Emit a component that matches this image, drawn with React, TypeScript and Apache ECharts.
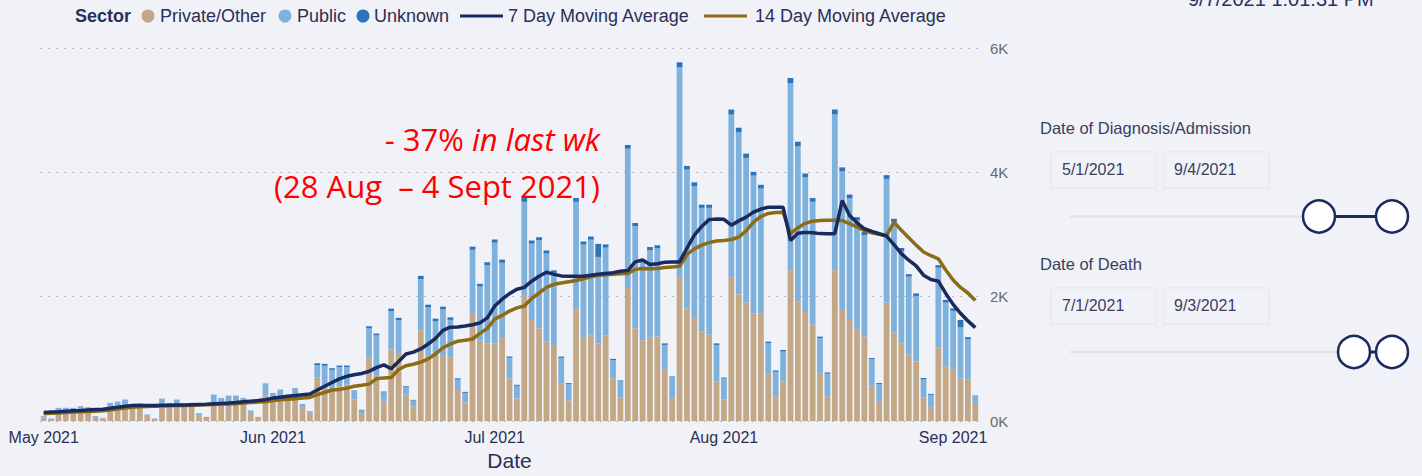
import React, { useEffect, useRef } from "react";
import * as echarts from "echarts";

// ---------- data ----------
const START_YEAR = 2021;
const START_MONTH = 4; // May (0-based)
const DAY_COUNT = 127; // 5/1/2021 .. 9/4/2021

const monthLabels = ["May 2021", "Jun 2021", "Jul 2021", "Aug 2021", "Sep 2021"];
const yTickLabels = ["0K", "2K", "4K", "6K"];

const dates: string[] = Array.from({ length: DAY_COUNT }, (_, i) =>
  new Date(Date.UTC(START_YEAR, START_MONTH, 1 + i)).toISOString().slice(0, 10)
);

// rows = weeks starting Saturday 1 May 2021
const privateOther = [
  60, 35, 171, 187, 180, 185, 175,
  60, 45, 187, 197, 251, 240, 240,
  85, 35, 256, 267, 256, 250, 267,
  85, 50, 288, 293, 304, 304, 320,
  133, 53, 411, 373, 384, 373, 384,
  213, 133, 705, 555, 470, 580, 590,
  350, 128, 1019, 740, 315, 1152, 1080,
  425, 235, 1461, 1060, 1050, 1050, 1019,
  501, 299, 1739, 1291, 1248, 1248, 1339,
  685, 362, 2014, 1624, 1490, 1278, 1224,
  600, 334, 1810, 1342, 1395, 1250, 1374,
  690, 382, 2142, 1490, 1300, 1344, 1360,
  825, 370, 2318, 1810, 1655, 1438, 1390,
  640, 350, 2305, 2035, 1907, 1730, 1725,
  770, 398, 638, 2427, 1920, 1771, 1557,
  771, 400, 2427, 1803, 1627, 1477, 1360,
  560, 309, 1904, 1424, 1253, 1067, 960,
  384, 229, 1184, 880, 827, 683, 667,
  293,
];

const publicSector = [
  20, 8, 42, 26, 33, 55, 49,
  20, 8, 106, 118, 96, 16, 16,
  22, 8, 107, 26, 91, 27, 26,
  43, 19, 139, 80, 107, 107, 53,
  38, 16, 182, 80, 123, 54, 149,
  64, 27, 195, 335, 355, 288, 278,
  131, 43, 471, 638, 145, 616, 545,
  120, 96, 824, 772, 558, 750, 609,
  167, 156, 1016, 877, 1257, 1622, 1208,
  333, 207, 1513, 1230, 1417, 1416, 1160,
  418, 262, 1717, 1496, 1523, 1390, 1416,
  290, 257, 2238, 1646, 1260, 1406, 1417,
  400, 333, 3372, 2234, 2125, 1992, 2040,
  585, 335, 2625, 2613, 2325, 2218, 2015,
  483, 396, 481, 3010, 2503, 2151, 1970,
  562, 362, 2504, 2217, 1956, 1753, 1630,
  433, 289, 1991, 1779, 1481, 1256, 1053,
  289, 193, 1283, 1027, 946, 824, 652,
  108,
];

const unknownSector = [
  0, 0, 0, 0, 0, 0, 0,
  0, 0, 0, 0, 0, 0, 0,
  0, 0, 0, 0, 0, 0, 0,
  0, 0, 0, 0, 0, 0, 0,
  0, 0, 10, 0, 0, 0, 0,
  0, 0, 30, 30, 25, 25, 25,
  10, 10, 35, 30, 15, 40, 35,
  15, 10, 50, 40, 40, 40, 40,
  20, 15, 50, 40, 50, 50, 50,
  20, 15, 60, 50, 50, 50, 40,
  20, 15, 60, 50, 50, 210, 50,
  20, 15, 60, 50, 40, 50, 50,
  25, 15, 80, 60, 60, 50, 50,
  25, 15, 80, 70, 70, 60, 60,
  25, 20, 25, 80, 70, 60, 60,
  25, 20, 80, 60, 60, 50, 50,
  20, 15, 60, 50, 50, 40, 40,
  20, 15, 40, 40, 40, 120, 30,
  10,
];

const movingAvg7 = [
  140, 145, 150, 158, 165, 172, 180,
  185, 190, 205, 222, 240, 252, 253,
  252, 252, 254, 255, 257, 258, 262,
  266, 270, 278, 285, 292, 300, 310,
  320, 330, 345, 370, 385, 400, 410,
  425, 437, 500, 560, 620, 680, 720,
  745, 765, 800, 860, 905, 843, 960,
  1080, 1110, 1160, 1240, 1330, 1460, 1510,
  1515, 1530, 1550, 1580, 1660, 1850, 1960,
  2050, 2120, 2150, 2250, 2330, 2395, 2360,
  2335, 2330, 2330, 2330, 2345, 2360, 2375,
  2385, 2410, 2420, 2560, 2590, 2520, 2530,
  2555, 2560, 2560, 2780, 2990, 3130, 3240,
  3250, 3245, 3150, 3220, 3280, 3360, 3410,
  3440, 3440, 3440, 2905, 3020, 3035, 3030,
  3015, 3013, 3013, 3547, 3307, 3189, 3093,
  3051, 3013, 2976, 2837, 2693, 2587, 2496,
  2347, 2277, 2251, 2053, 1877, 1733, 1611,
  1504,
];

const movingAvg14 = [
  120, 125, 130, 138, 145, 150, 155,
  160, 165, 180, 195, 210, 222, 230,
  236, 240, 243, 246, 249, 252, 255,
  258, 262, 266, 270, 275, 280, 290,
  300, 306, 312, 330, 345, 350, 360,
  370, 380, 427, 460, 500, 510, 530,
  560, 575, 595, 680, 695, 700, 830,
  890, 915, 950, 1000, 1080, 1180, 1240,
  1285, 1300, 1320, 1410, 1490, 1640, 1700,
  1770, 1820, 1850, 1970, 2060, 2150, 2200,
  2220, 2240, 2260, 2290, 2320, 2345, 2355,
  2360, 2370, 2375, 2440, 2455, 2450, 2455,
  2470, 2480, 2490, 2680, 2770, 2830, 2870,
  2895, 2905, 2920, 2960, 3060, 3200, 3290,
  3340, 3355, 3360, 3013, 3110, 3180, 3215,
  3227, 3230, 3230, 3225, 3175, 3125, 3060,
  3030, 3005, 2985, 3200, 3070, 2950, 2830,
  2720, 2660, 2610, 2430, 2270, 2150, 2060,
  1940,
];

const diagnosisRange = ["5/1/2021", "9/4/2021"];
const deathRange = ["7/1/2021", "9/3/2021"];
const timestamp = "9/7/2021 1:01:31 PM";

// ---------- styles ----------
const BG = "#f0f2f8";
const C_PRIVATE = "#c2a886";
const C_PUBLIC = "#7fb1dd";
const C_UNKNOWN = "#2b73bb";
const C_MA7 = "#1a2a5e";
const C_MA14 = "#8c6c14";
const TEXT = "#2a2f55";
const FONT = "'Liberation Sans', Arial, sans-serif";
const NOTE_FONT = "'Open Sans', sans-serif";

export default function App() {
  const ref = useRef<HTMLDivElement>(null);

  useEffect(() => {
    if (!ref.current) return;
    const chart = echarts.init(ref.current, undefined, { renderer: "svg" });

    const legendY = 16;
    const txt = (x: number, y: number, text: string, size: number, extra: any = {}) => ({
      type: "text",
      x,
      y,
      style: {
        text,
        fill: TEXT,
        fontSize: size,
        fontFamily: FONT,
        verticalAlign: "middle",
        align: "left",
        ...extra,
      },
    });

    const graphic: any[] = [
      // legend
      txt(75, legendY, "Sector", 18, { fontWeight: "bold" }),
      { type: "circle", shape: { cx: 148, cy: legendY, r: 6.5 }, style: { fill: C_PRIVATE } },
      txt(160, legendY, "Private/Other", 18),
      { type: "circle", shape: { cx: 285, cy: legendY, r: 6.5 }, style: { fill: C_PUBLIC } },
      txt(297, legendY, "Public", 18),
      { type: "circle", shape: { cx: 363, cy: legendY, r: 6.5 }, style: { fill: C_UNKNOWN } },
      txt(374, legendY, "Unknown", 18),
      { type: "line", shape: { x1: 460, y1: legendY, x2: 503, y2: legendY }, style: { stroke: C_MA7, lineWidth: 3 } },
      txt(508, legendY, "7 Day Moving Average", 18),
      { type: "line", shape: { x1: 704, y1: legendY, x2: 747, y2: legendY }, style: { stroke: C_MA14, lineWidth: 3 } },
      txt(755, legendY, "14 Day Moving Average", 18),
      // timestamp (clipped at the top edge, as in the reference)
      txt(1188, 9, timestamp, 20, { verticalAlign: "bottom", fill: "#2b3163" }),
      // annotation
      {
        type: "text",
        x: 600,
        y: 139,
        style: {
          text: "{n|- 37% }{i|in last wk}",
          align: "right",
          verticalAlign: "middle",
          rich: {
            n: { fontSize: 31, fontFamily: NOTE_FONT, fill: "#ff0000", color: "#ff0000" },
            i: { fontSize: 31, fontFamily: NOTE_FONT, fontStyle: "italic", fill: "#ff0000", color: "#ff0000" },
          },
        },
      },
      {
        type: "text",
        x: 600,
        y: 186,
        style: {
          text: "(28 Aug  \u2013 4 Sept 2021)",
          align: "right",
          verticalAlign: "middle",
          fontSize: 31,
          fontFamily: NOTE_FONT,
          fill: "#ff0000",
        },
      },
      // slicer: Date of Diagnosis/Admission
      txt(1040, 128, "Date of Diagnosis/Admission", 16.5, { fill: "#3a3f5c" }),
      { type: "rect", shape: { x: 1051, y: 152, width: 105, height: 36 }, style: { fill: "none", stroke: "#e3e5ec", lineWidth: 1 } },
      { type: "rect", shape: { x: 1164, y: 152, width: 105, height: 36 }, style: { fill: "none", stroke: "#e3e5ec", lineWidth: 1 } },
      txt(1062, 169, diagnosisRange[0], 16, { fill: "#3a3f5c" }),
      txt(1174, 169, diagnosisRange[1], 16, { fill: "#3a3f5c" }),
      { type: "line", shape: { x1: 1070, y1: 216.5, x2: 1319, y2: 216.5 }, style: { stroke: "#e2e3e8", lineWidth: 2.5 } },
      { type: "line", shape: { x1: 1319, y1: 216.5, x2: 1392, y2: 216.5 }, style: { stroke: C_MA7, lineWidth: 3 } },
      { type: "circle", shape: { cx: 1319, cy: 216.5, r: 16 }, style: { fill: "#ffffff", stroke: C_MA7, lineWidth: 2.5 } },
      { type: "circle", shape: { cx: 1392, cy: 216.5, r: 16 }, style: { fill: "#ffffff", stroke: C_MA7, lineWidth: 2.5 } },
      // slicer: Date of Death
      txt(1040, 264, "Date of Death", 16.5, { fill: "#3a3f5c" }),
      { type: "rect", shape: { x: 1051, y: 288, width: 105, height: 36 }, style: { fill: "none", stroke: "#e3e5ec", lineWidth: 1 } },
      { type: "rect", shape: { x: 1164, y: 288, width: 105, height: 36 }, style: { fill: "none", stroke: "#e3e5ec", lineWidth: 1 } },
      txt(1062, 305, deathRange[0], 16, { fill: "#3a3f5c" }),
      txt(1174, 305, deathRange[1], 16, { fill: "#3a3f5c" }),
      { type: "line", shape: { x1: 1070, y1: 352, x2: 1354, y2: 352 }, style: { stroke: "#e2e3e8", lineWidth: 2.5 } },
      { type: "line", shape: { x1: 1354, y1: 352, x2: 1392, y2: 352 }, style: { stroke: C_MA7, lineWidth: 3 } },
      { type: "circle", shape: { cx: 1354, cy: 352, r: 16 }, style: { fill: "#ffffff", stroke: C_MA7, lineWidth: 2.5 } },
      { type: "circle", shape: { cx: 1392, cy: 352, r: 16 }, style: { fill: "#ffffff", stroke: C_MA7, lineWidth: 2.5 } },
    ];

    const barCommon = {
      type: "bar",
      stack: "sector",
      barCategoryGap: "22%",
      emphasis: { disabled: true },
    };

    chart.setOption({
      animation: false,
      backgroundColor: "transparent",
      textStyle: { fontFamily: FONT },
      grid: { left: 40, right: 443, top: 48, bottom: 53 },
      xAxis: {
        type: "category",
        data: dates,
        boundaryGap: true,
        axisLine: { show: false },
        axisTick: { show: false },
        axisLabel: {
          interval: (_i: number, v: string) => v.slice(8) === "01",
          formatter: (v: string) => monthLabels[Number(v.slice(5, 7)) - 5],
          color: TEXT,
          fontSize: 16,
          margin: 8,
          fontFamily: FONT,
        },
        name: "Date",
        nameLocation: "middle",
        nameGap: 27,
        nameTextStyle: { fontSize: 21, color: TEXT, fontFamily: FONT },
      },
      yAxis: {
        type: "value",
        position: "right",
        min: 0,
        max: 6000,
        interval: 2000,
        axisLine: { show: false },
        axisTick: { show: false },
        axisLabel: {
          formatter: (v: number) => yTickLabels[Math.round(v / 2000)],
          color: "#6b6b6b",
          fontSize: 15,
          margin: 11,
          fontFamily: FONT,
        },
        splitLine: { lineStyle: { color: "#bcbcc0", type: [2, 6], width: 1 } },
      },
      series: [
        { ...barCommon, name: "Private/Other", data: privateOther, itemStyle: { color: C_PRIVATE } },
        { ...barCommon, name: "Public", data: publicSector, itemStyle: { color: C_PUBLIC } },
        { ...barCommon, name: "Unknown", data: unknownSector, itemStyle: { color: C_UNKNOWN } },
        {
          type: "line",
          name: "14 Day Moving Average",
          data: movingAvg14,
          showSymbol: false,
          symbol: "none",
          lineStyle: { color: C_MA14, width: 3.5 },
          itemStyle: { color: C_MA14 },
          z: 5,
        },
        {
          type: "line",
          name: "7 Day Moving Average",
          data: movingAvg7,
          showSymbol: false,
          symbol: "none",
          lineStyle: { color: C_MA7, width: 3.5 },
          itemStyle: { color: C_MA7 },
          z: 6,
        },
      ],
      graphic,
    });

    return () => chart.dispose();
  }, []);

  return (
    <div
      style={{ position: "absolute", left: 0, top: 0, width: 1422, height: 476, background: BG, overflow: "hidden" }}
    >
      <div ref={ref} style={{ width: 1422, height: 476 }} />
    </div>
  );
}
